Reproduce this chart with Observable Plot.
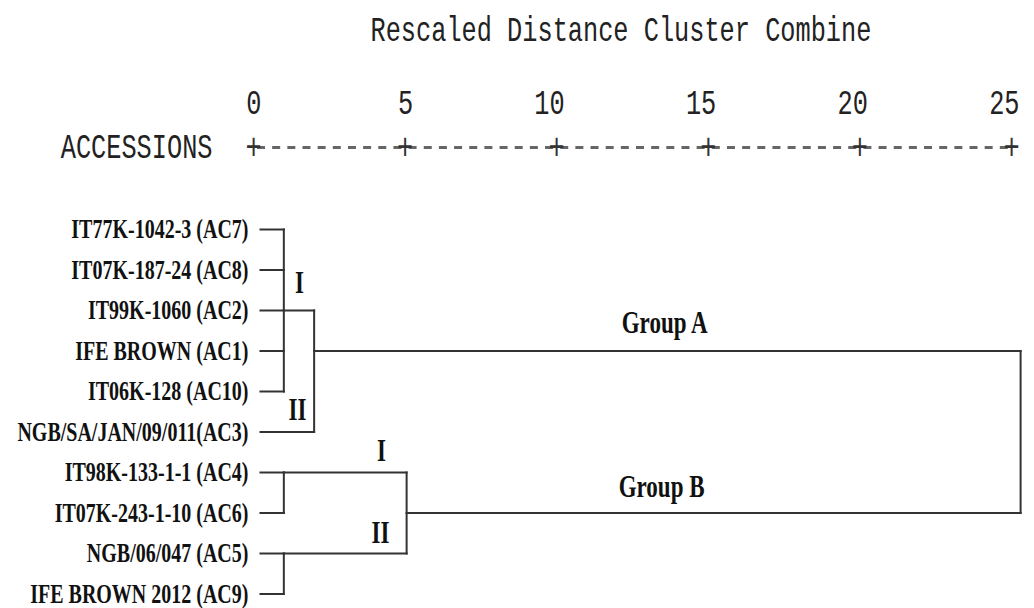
<!DOCTYPE html>
<html>
<head>
<meta charset="utf-8">
<script src="https://cdn.jsdelivr.net/npm/d3@7"></script>
<script src="https://cdn.jsdelivr.net/npm/@observablehq/plot@0.6"></script>
<style>
  html, body { margin: 0; padding: 0; background: #fff; }
  #chart svg { display: block; }
</style>
</head>
<body>
<div id="chart"></div>
<script>
// ---- data ----
const title = "Rescaled Distance Cluster Combine";
const rowTitle = "ACCESSIONS";
const tickValues = [0, 5, 10, 15, 20, 25];
const tickLabels = ["0", "5", "10", "15", "20", "25"];

const leaves = [
  "IT77K-1042-3 (AC7)",
  "IT07K-187-24 (AC8)",
  "IT99K-1060 (AC2)",
  "IFE BROWN (AC1)",
  "IT06K-128 (AC10)",
  "NGB/SA/JAN/09/011(AC3)",
  "IT98K-133-1-1 (AC4)",
  "IT07K-243-1-10 (AC6)",
  "NGB/06/047 (AC5)",
  "IFE BROWN 2012 (AC9)"
];
const leafStart = 0.23; // distance where leaf branches begin

// clusters (merge heights in rescaled distance)
const clusterIds = ["A-I", "A", "B-I", "B-II", "B", "Root"];
const clusterHeights = [1.0, 2.0, 1.0, 1.0, 5.05, 25.3];
const clusterChildren = [
  ["L0", "L1", "L2", "L3", "L4"],
  ["A-I", "L5"],
  ["L6", "L7"],
  ["L8", "L9"],
  ["B-I", "B-II"],
  ["A", "B"]
];
const clusterRows = [2, 3, 6, 8, 7, 5];

// annotations
const annoText = ["I", "II", "I", "II", "Group A", "Group B"];
const annoX = [1.52, 1.45, 4.22, 4.19, 13.56, 13.46];
const annoRow = [1.33, 4.47, 5.46, 7.5, 2.3, 6.37];

// ---- build segments from cluster structure ----
const nodeInfo = new Map();
leaves.forEach((name, i) => nodeInfo.set("L" + i, {h: leafStart, row: i}));
clusterIds.forEach((id, i) => nodeInfo.set(id, {h: clusterHeights[i], row: clusterRows[i]}));
const segments = [];
clusterIds.forEach((id, i) => {
  const h = clusterHeights[i];
  const rows = clusterChildren[i].map(c => nodeInfo.get(c).row);
  segments.push({x1: h, x2: h, y1: d3.min(rows), y2: d3.max(rows)});
  clusterChildren[i].forEach(c => {
    const n = nodeInfo.get(c);
    segments.push({x1: n.h, x2: h, y1: n.row, y2: n.row});
  });
});
const annotations = annoText.map((t, i) => ({text: t, x: annoX[i], y: annoRow[i]}));

const mono = "Liberation Mono, DejaVu Sans Mono, monospace";
const serif = "Liberation Serif, DejaVu Serif, serif";

const chart = Plot.plot({
  width: 1034,
  height: 608,
  marginTop: 229,
  marginBottom: 14.5,
  marginLeft: 253,
  marginRight: 23,
  x: {domain: [0, 25], axis: null},
  y: {domain: [0, 9], reverse: true, axis: null},
  style: {background: "#fff"},
  marks: [
    // header
    Plot.text([title], {frameAnchor: "top-left", text: d => d, textAnchor: "start", lineAnchor: "middle",
      dx: 117, dy: -199, fontFamily: mono, fontSize: 25.3, fill: "#222"}),
    Plot.text(tickValues, {x: d => d, text: (d, i) => tickLabels[i], frameAnchor: "top", textAnchor: "end",
      lineAnchor: "middle", dx: 8, dy: -126, fontFamily: mono, fontSize: 25.3, fill: "#222"}),
    Plot.text([rowTitle], {frameAnchor: "top-left", text: d => d, textAnchor: "end", lineAnchor: "middle",
      dx: -41, dy: -82, fontFamily: mono, fontSize: 25.3, fill: "#222"}),
    Plot.ruleY([0], {x1: 0, x2: 25, dy: -82, stroke: "#666", strokeWidth: 3,
      strokeDasharray: "8,7.16", strokeDashoffset: 11.16}),
    Plot.text(tickValues, {x: d => d, text: () => "+", frameAnchor: "top", lineAnchor: "middle", dy: -82,
      fontFamily: mono, fontSize: 27, fill: "#333"}),
    // dendrogram
    Plot.link(segments, {x1: "x1", y1: "y1", x2: "x2", y2: "y2", stroke: "#333", strokeWidth: 2,
      strokeLinecap: "square"}),
    // leaf labels
    Plot.text(leaves, {x: leaves.map(() => leafStart), y: leaves.map((_, i) => i), text: d => d,
      textAnchor: "end", dx: -12, fontFamily: serif, fontWeight: "bold", fontSize: 20, fill: "#111"}),
    // annotations
    Plot.text(annotations, {x: "x", y: "y", text: "text", fontFamily: serif, fontWeight: "bold",
      fontSize: 23, fill: "#111"})
  ]
});

// vertically stretch text as in the reference
const k = 1.35;
chart.querySelectorAll("text").forEach(el => {
  const t = el.getAttribute("transform");
  if (t) {
    el.setAttribute("transform", t + ` scale(1,${k})`);
  } else {
    const x = +(el.getAttribute("x") || 0), y = +(el.getAttribute("y") || 0);
    el.setAttribute("transform", `translate(${x},${y}) scale(1,${k}) translate(${-x},${-y})`);
  }
});

document.getElementById("chart").appendChild(chart);
</script>
</body>
</html>
